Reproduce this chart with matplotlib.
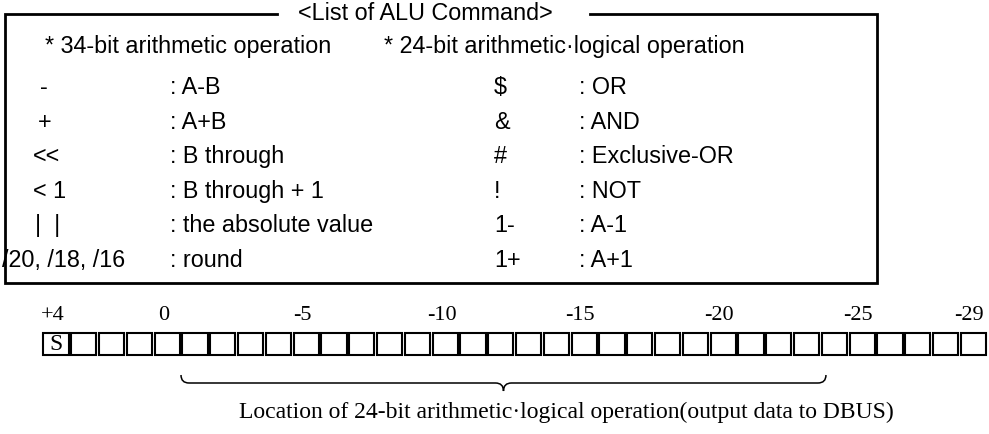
import matplotlib.pyplot as plt
from matplotlib.patches import Rectangle, PathPatch
from matplotlib.path import Path

# text content of the command list
title = "<List of ALU Command>"
arith_header = "* 34-bit arithmetic operation"
logic_header = "* 24-bit arithmetic\u00b7logical operation"
arith_ops = ["-", "+", "<<", "< 1", "|  |", "/20, /18, /16"]
arith_desc = [": A-B", ": A+B", ": B through", ": B through + 1",
              ": the absolute value", ": round"]
logic_ops = ["$", "&", "#", "!", "1-", "1+"]
logic_desc = [": OR", ": AND", ": Exclusive-OR", ": NOT", ": A-1", ": A+1"]

# register bits, from +4 down to -29
bits = list(range(4, -30, -1))
labelled_bits = [4, 0, -5, -10, -15, -20, -25, -29]
sign_bit = 4
brace_from, brace_to = -1, -24
caption = "Location of 24-bit arithmetic\u00b7logical operation(output data to DBUS)"

SANS = "Liberation Sans"
SERIF = "Liberation Serif"
FS = 16.8

fig = plt.figure(figsize=(9.89, 4.34), dpi=100)
ax = fig.add_axes([0, 0, 1, 1])
ax.set_xlim(0, 989)
ax.set_ylim(434, 0)
ax.axis("off")

# frame with the title sitting in the top edge
ax.plot([277, 5, 5, 877, 877, 590], [14, 14, 283, 283, 14, 14],
        color="black", lw=2, solid_joinstyle="miter")
ax.text(425, 14, title, ha="center", va="center", fontsize=FS, family=SANS)

ax.text(45, 53, arith_header, va="baseline", fontsize=FS, family=SANS)
ax.text(384, 53, logic_header, va="baseline", fontsize=FS, family=SANS)

op_indent = [40, 38, 33, 33, 35, 2]
for i in range(len(arith_ops)):
    y = 94 + 34.6 * i   # baseline of each row
    ax.text(op_indent[i], y, arith_ops[i], va="baseline", fontsize=FS, family=SANS)
    ax.text(170, y, arith_desc[i], va="baseline", fontsize=FS, family=SANS)
    ax.text(494, y, logic_ops[i], va="baseline", fontsize=FS, family=SANS)
    ax.text(579, y, logic_desc[i], va="baseline", fontsize=FS, family=SANS)

# bit cells
x0, w = 42, 27.8
def bit_left(b):
    return x0 + bits.index(b) * w

for b in bits:
    ax.add_patch(Rectangle((bit_left(b) + 1.3, 333), w - 2.6, 22,
                           fill=False, lw=1.5, ec="black"))
ax.text(bit_left(sign_bit) + w / 2, 345, "S", ha="center", va="center",
        fontsize=17, family=SERIF)

for k, b in enumerate(labelled_bits):
    lab = "+%d" % b if b > 0 else str(b)
    # printed numbers creep slightly left of the cells towards the right end
    ax.text(bit_left(b) + w / 2 - 3 - 0.22 * k, 316, lab, ha="center",
            va="center", fontsize=16, family=SERIF)

# curly brace under the 24-bit field
xa = bit_left(brace_from)
xb = bit_left(brace_to) + w * 0.2
xm = (xa + xb) / 2
yl, yt, yd, r = 383, 375, 391, 8
verts = [(xa, yt), (xa, yl), (xa + r, yl),
         (xm - r, yl), (xm, yl), (xm, yd),
         (xm, yl), (xm + r, yl),
         (xb - r, yl), (xb, yl), (xb, yt)]
codes = [Path.MOVETO, Path.CURVE3, Path.CURVE3,
         Path.LINETO, Path.CURVE3, Path.CURVE3,
         Path.CURVE3, Path.CURVE3,
         Path.LINETO, Path.CURVE3, Path.CURVE3]
ax.add_patch(PathPatch(Path(verts, codes), fill=False, lw=1.1, ec="black"))

ax.text(566, 412, caption, ha="center", va="center", fontsize=17, family=SERIF)

fig.savefig("out.png", dpi=100)
